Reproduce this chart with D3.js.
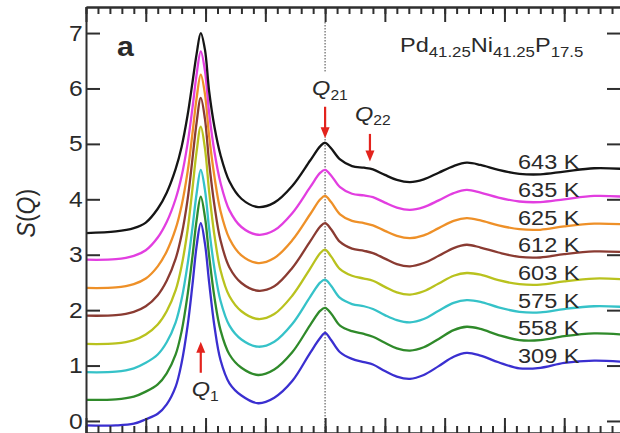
<!DOCTYPE html>
<html>
<head>
<meta charset="utf-8">
<script src="https://cdn.jsdelivr.net/npm/d3@7/dist/d3.min.js"></script>
<style>
  html, body { margin: 0; padding: 0; background: #fff; }
  svg { display: block; }
  text { font-family: "Liberation Sans", Arial, Helvetica, sans-serif; fill: #2a2a2a; }
</style>
</head>
<body>
<svg id="chart" width="620" height="433"></svg>
<script>
// ---------------- data ----------------
const qValues = [1.0, 1.5, 1.8, 2.0, 2.2, 2.35, 2.5, 2.6, 2.7, 2.78, 2.85, 2.92, 2.99, 3.06, 3.15, 3.25, 3.4, 3.6, 3.88, 4.15, 4.45, 4.75, 4.92, 5.0, 5.1, 5.25, 5.45, 5.65, 5.8, 6.0, 6.2, 6.42, 6.65, 6.9, 7.15, 7.37, 7.6, 7.9, 8.25, 8.6, 9.0, 9.5, 9.95];

const temperatures = ["309 K", "558 K", "575 K", "603 K", "612 K", "625 K", "635 K", "643 K"];
const offsets = [0, 0.5, 1.0, 1.5, 2.0, 2.5, 3.0, 3.5];
const colors = ["#3a2fd0", "#2f8a2a", "#35c2c8", "#b9c21e", "#8a3b32", "#ee9028", "#e23ee0", "#151515"];

const s309 = [-0.08, -0.08, -0.05, 0.03, 0.13, 0.30, 0.62, 1.05, 1.72, 2.45, 3.15, 3.57, 3.20, 2.50, 1.70, 1.10, 0.68, 0.46, 0.32, 0.42, 0.72, 1.23, 1.50, 1.59, 1.46, 1.24, 1.12, 1.06, 1.02, 0.90, 0.80, 0.76, 0.83, 0.99, 1.16, 1.23, 1.18, 1.06, 0.95, 0.96, 1.05, 1.09, 1.07];
const s558 = [-0.12, -0.11, -0.06, 0.03, 0.16, 0.36, 0.70, 1.12, 1.78, 2.46, 3.12, 3.55, 3.18, 2.48, 1.72, 1.14, 0.70, 0.46, 0.33, 0.43, 0.74, 1.23, 1.49, 1.54, 1.44, 1.22, 1.12, 1.07, 1.02, 0.91, 0.81, 0.77, 0.83, 0.98, 1.14, 1.20, 1.16, 1.05, 0.96, 0.96, 1.03, 1.08, 1.06];
const s575 = [-0.12, -0.11, -0.05, 0.05, 0.20, 0.42, 0.78, 1.20, 1.83, 2.48, 3.10, 3.53, 3.17, 2.47, 1.74, 1.17, 0.72, 0.47, 0.34, 0.43, 0.75, 1.24, 1.50, 1.55, 1.44, 1.22, 1.11, 1.07, 1.02, 0.91, 0.82, 0.78, 0.84, 0.99, 1.13, 1.18, 1.15, 1.05, 0.97, 0.96, 1.02, 1.07, 1.06];
const s603 = [-0.11, -0.10, -0.04, 0.06, 0.24, 0.48, 0.86, 1.30, 1.95, 2.68, 3.36, 3.81, 3.42, 2.64, 1.84, 1.22, 0.75, 0.48, 0.34, 0.43, 0.76, 1.25, 1.53, 1.59, 1.47, 1.24, 1.12, 1.07, 1.03, 0.92, 0.82, 0.78, 0.84, 0.98, 1.12, 1.17, 1.14, 1.04, 0.97, 0.96, 1.02, 1.07, 1.06];
const s612 = [-0.10, -0.09, -0.03, 0.07, 0.27, 0.53, 0.93, 1.36, 2.00, 2.72, 3.38, 3.83, 3.45, 2.66, 1.88, 1.26, 0.77, 0.49, 0.35, 0.43, 0.76, 1.24, 1.51, 1.57, 1.46, 1.23, 1.11, 1.07, 1.03, 0.93, 0.83, 0.79, 0.85, 0.98, 1.12, 1.18, 1.13, 1.04, 0.96, 0.95, 1.01, 1.06, 1.05];
const s625 = [-0.10, -0.09, -0.03, 0.07, 0.29, 0.56, 0.97, 1.39, 2.00, 2.68, 3.32, 3.75, 3.40, 2.64, 1.90, 1.29, 0.79, 0.49, 0.35, 0.44, 0.76, 1.23, 1.50, 1.56, 1.45, 1.23, 1.11, 1.07, 1.03, 0.93, 0.84, 0.80, 0.85, 0.98, 1.11, 1.16, 1.12, 1.03, 0.96, 0.95, 1.01, 1.06, 1.05];
const s635 = [-0.09, -0.08, -0.02, 0.08, 0.31, 0.59, 1.01, 1.42, 2.01, 2.64, 3.25, 3.67, 3.32, 2.56, 1.85, 1.30, 0.80, 0.50, 0.36, 0.44, 0.75, 1.22, 1.48, 1.53, 1.43, 1.22, 1.10, 1.07, 1.04, 0.94, 0.85, 0.81, 0.86, 0.98, 1.11, 1.17, 1.12, 1.03, 0.96, 0.95, 1.00, 1.06, 1.05];
const s643 = [-0.11, -0.08, -0.02, 0.08, 0.33, 0.62, 1.05, 1.45, 2.02, 2.60, 3.12, 3.50, 3.20, 2.45, 1.80, 1.30, 0.82, 0.51, 0.36, 0.44, 0.74, 1.20, 1.46, 1.52, 1.42, 1.22, 1.10, 1.07, 1.04, 0.94, 0.85, 0.81, 0.86, 0.98, 1.10, 1.16, 1.12, 1.03, 0.96, 0.95, 1.00, 1.06, 1.05];
const seriesValues = [s309, s558, s575, s603, s612, s625, s635, s643];

const yTickValues = [0, 1, 2, 3, 4, 5, 6, 7];
const yTickLabels = ["0", "1", "2", "3", "4", "5", "6", "7"];
const xMajorTicks = [1, 2, 3, 4, 5, 6, 7, 8, 9];
const xMinorTicks = d3.range(1, 9.96, 0.2).map(v => +v.toFixed(2));

const peakQ1 = 2.92, peakQ21 = 5.0, peakQ22 = 5.75;

// ---------------- layout ----------------
const svg = d3.select("#chart");
const pLeft = 86, pRight = 621, pTop = 7, pBottom = 433;
const SX = 1.12; // horizontal stretch of the lettering, as in the source figure

const x = d3.scaleLinear().domain([1, 9.95]).range([pLeft, pRight]);
const y = d3.scaleLinear().domain([-0.217, 7.47]).range([pBottom, pTop]);

svg.append("rect").attr("width", 620).attr("height", 433).attr("fill", "#fff");

svg.append("defs").append("clipPath").attr("id", "clip")
  .append("rect").attr("x", pLeft).attr("y", pTop).attr("width", pRight - pLeft).attr("height", pBottom - pTop);

const plot = svg.append("g").attr("clip-path", "url(#clip)");

// dotted vertical line at Q21
plot.append("line")
  .attr("x1", x(peakQ21)).attr("x2", x(peakQ21))
  .attr("y1", y(7.2)).attr("y2", y(-0.3))
  .attr("stroke", "#8a8a8a").attr("stroke-width", 1.6)
  .attr("stroke-dasharray", "1.5,1.5");
// gap around the Q21 label/arrow
svg.append("rect")
  .attr("x", x(peakQ21) - 4).attr("y", y(6.3)).attr("width", 8).attr("height", y(5.12) - y(6.3))
  .attr("fill", "#fff");

const line = d3.line()
  .x((d, i) => x(qValues[i]))
  .y(d => y(d))
  .curve(d3.curveCatmullRom.alpha(0.5));

seriesValues.forEach((vals, k) => {
  plot.append("path")
    .datum(vals.map(v => v + offsets[k]))
    .attr("d", line)
    .attr("fill", "none")
    .attr("stroke", colors[k])
    .attr("stroke-width", 2.3)
    .attr("stroke-linejoin", "round");
});

// ---------------- axes ----------------
const axisColor = "#2f2f2f";
function styleAxis(g) {
  g.selectAll("path.domain").attr("stroke", axisColor).attr("stroke-width", 2);
  g.selectAll(".tick line").attr("stroke", axisColor).attr("stroke-width", 2);
}

// top
svg.append("g").attr("transform", `translate(0,${pTop})`)
  .call(d3.axisTop(x).tickValues(xMinorTicks).tickSizeInner(-7).tickSizeOuter(0).tickFormat(""))
  .call(styleAxis);
svg.append("g").attr("transform", `translate(0,${pTop})`)
  .call(d3.axisTop(x).tickValues(xMajorTicks).tickSizeInner(-15).tickSizeOuter(0).tickFormat(""))
  .call(styleAxis);
// bottom
svg.append("g").attr("transform", `translate(0,${pBottom})`)
  .call(d3.axisBottom(x).tickValues(xMinorTicks).tickSizeInner(-7).tickSizeOuter(0).tickFormat(""))
  .call(styleAxis);
svg.append("g").attr("transform", `translate(0,${pBottom})`)
  .call(d3.axisBottom(x).tickValues(xMajorTicks).tickSizeInner(-15).tickSizeOuter(0).tickFormat(""))
  .call(styleAxis);
// right
svg.append("g").attr("transform", `translate(${pRight},0)`)
  .call(d3.axisRight(y).tickValues(yTickValues).tickSizeInner(-14).tickSizeOuter(0).tickFormat(""))
  .call(styleAxis);
// left
const yAxisG = svg.append("g").attr("transform", `translate(${pLeft},0)`)
  .call(d3.axisLeft(y).tickValues(yTickValues).tickSizeInner(-14).tickSizeOuter(0).tickPadding(3)
    .tickFormat((d, i) => yTickLabels[i]))
  .call(styleAxis);
yAxisG.selectAll(".tick text")
  .attr("font-size", 22)
  .attr("font-family", "Liberation Sans, Arial, sans-serif")
  .attr("fill", "#2a2a2a")
  .attr("transform", `scale(${SX},1)`);

function stretchedText(px, py) {
  return svg.append("text").attr("transform", `translate(${px},${py}) scale(${SX},1)`);
}

// y-axis title S(Q)
const yt = svg.append("text")
  .attr("transform", `translate(35,${y(3.75)}) rotate(-90) scale(1,${SX})`)
  .attr("text-anchor", "middle")
  .attr("font-size", 23);
yt.append("tspan").attr("font-style", "italic").text("S");
yt.append("tspan").text("(");
yt.append("tspan").attr("font-style", "italic").text("Q");
yt.append("tspan").text(")");

// panel letter
stretchedText(117, 56).attr("font-size", 27).attr("font-weight", "bold").text("a");

// composition label
const comp = stretchedText(400, 52).attr("font-size", 21);
[["Pd", false], ["41.25", true], ["Ni", false], ["41.25", true], ["P", false], ["17.5", true]].forEach(([t, sub]) => {
  comp.append("tspan").attr("font-size", sub ? 15 : 21)
    .attr("baseline-shift", sub ? "-30%" : null).text(t);
});

// temperature labels
temperatures.forEach((t, k) => {
  stretchedText(518, y(offsets[k] + 1.18))
    .attr("dy", "0.36em")
    .attr("font-size", 21)
    .text(t);
});

// arrows
const red = "#e3231d";
function arrow(xp, yTail, yTip) {
  const dir = yTip > yTail ? 1 : -1;
  svg.append("line").attr("x1", xp).attr("x2", xp).attr("y1", yTail).attr("y2", yTip - dir * 8)
    .attr("stroke", red).attr("stroke-width", 2.2);
  svg.append("path")
    .attr("d", `M${xp - 4.5},${yTip - dir * 11} L${xp + 4.5},${yTip - dir * 11} L${xp},${yTip} Z`)
    .attr("fill", red);
}
arrow(x(peakQ1), y(0.87), y(1.43));
arrow(x(peakQ21), y(5.67), y(5.1));
arrow(x(peakQ22), y(5.18), y(4.68));

function qLabel(xp, yp, sub) {
  const t = stretchedText(xp, yp).attr("font-size", 21);
  t.append("tspan").attr("font-style", "italic").text("Q");
  t.append("tspan").attr("font-size", 14).attr("baseline-shift", "-30%").text(sub);
}
qLabel(x(peakQ1) - 9, y(0.45), "1");
qLabel(x(peakQ21) - 13, y(5.88), "21");
qLabel(x(peakQ22) - 15, y(5.42), "22");
</script>
</body>
</html>
